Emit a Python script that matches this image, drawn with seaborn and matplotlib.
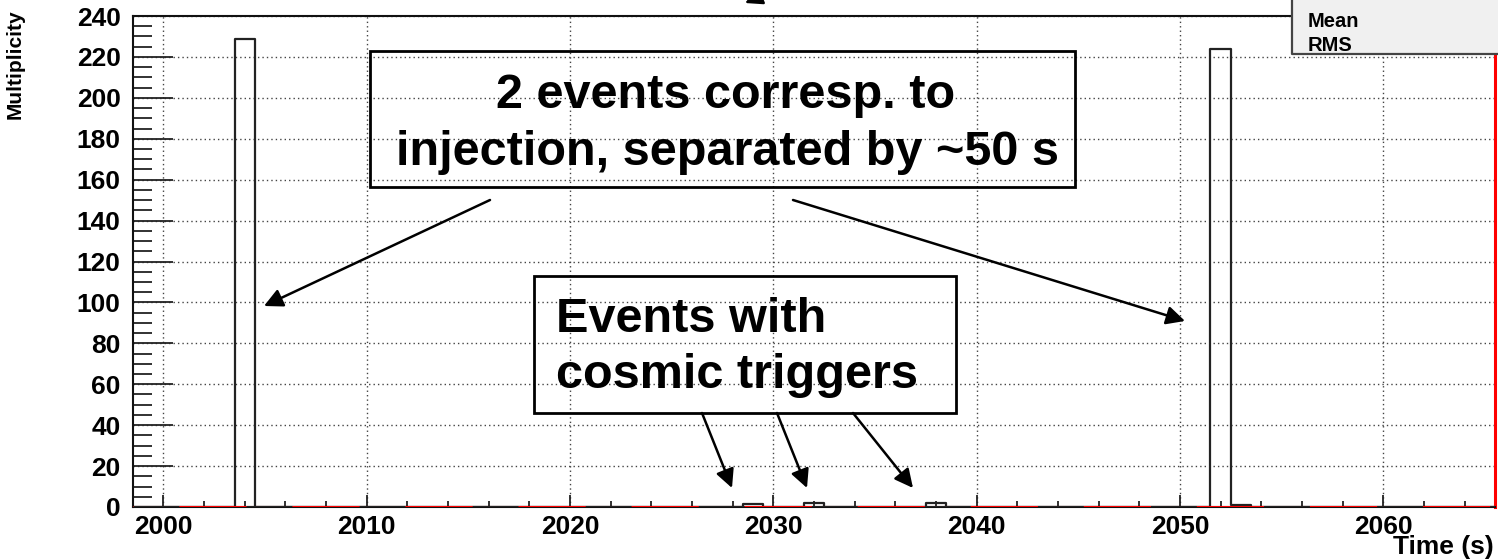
import numpy as np
import pandas as pd
import matplotlib
matplotlib.use("Agg")
import matplotlib.pyplot as plt
from matplotlib.patches import Rectangle
from matplotlib.ticker import MultipleLocator
import seaborn as sns

# ---- data ----
time_centers = list(range(1999, 2066))          # bin centres, 1 s bins
nonzero_bins = {2004: 229, 2029: 1.5, 2032: 2, 2038: 2, 2052: 224, 2053: 1.2}
multiplicity = [nonzero_bins.get(t, 0) for t in time_centers]
x_ticks = [2000, 2010, 2020, 2030, 2040, 2050, 2060]
y_ticks = list(range(0, 241, 20))
box1_lines = ["2 events corresp. to", "injection, separated by ~50 s"]
box2_lines = ["Events with", "cosmic triggers"]
stats_lines = ["Mean", "RMS"]

df = pd.DataFrame({"time": time_centers, "mult": multiplicity})

W, H = 1498, 559
sns.set_theme(style="ticks")
plt.rcParams["font.family"] = ["Liberation Sans", "DejaVu Sans"]
plt.rcParams["font.weight"] = "bold"
plt.rcParams["text.color"] = "black"
plt.rcParams["xtick.color"] = "black"
plt.rcParams["ytick.color"] = "black"
plt.rcParams["axes.edgecolor"] = "black"

fig = plt.figure(figsize=(W / 100, H / 100), dpi=100)
ax = fig.add_axes([133 / W, 1 - 507 / H, (1495 - 133) / W, (507 - 16) / H])

def fx(px):
    return px / W

def fy(py):
    return 1 - py / H

ax.grid(True, which="major", linestyle=(0, (1, 2.2)), color="#444444", linewidth=1.0)
ax.set_axisbelow(True)

sns.histplot(data=df, x="time", weights="mult", binwidth=1, binrange=(1998.5, 2065.5),
             element="step", fill=False, color="#222222", linewidth=1.6, ax=ax)

ax.axhline(0, color="red", linewidth=2.2, zorder=3)
ax.axhline(0, color="#222222", linewidth=2.2, zorder=3.1, dashes=(15, 22))

ax.set_xlim(1998.5, 2065.5)
ax.set_ylim(0, 240)
ax.set_xticks(x_ticks)
ax.set_yticks(y_ticks)
ax.xaxis.set_minor_locator(MultipleLocator(2))
ax.yaxis.set_minor_locator(MultipleLocator(5))
ax.set_xlabel("")
ax.set_ylabel("")

ax.tick_params(axis="y", which="major", direction="in", length=29, width=1.3,
               pad=9, labelsize=19, colors="#222222", labelcolor="black")
ax.tick_params(axis="y", which="minor", direction="in", length=14, width=1.3,
               colors="#222222")
ax.tick_params(axis="x", which="major", direction="in", length=9, width=1.3,
               pad=6, labelsize=19, colors="#222222", labelcolor="black")
ax.tick_params(axis="x", which="minor", direction="in", length=4.5, width=1.3,
               colors="#222222")
for lab in ax.get_xticklabels() + ax.get_yticklabels():
    lab.set_fontweight("bold")
    lab.set_color("black")

for s in ["left", "bottom", "top"]:
    ax.spines[s].set_color("#111111")
    ax.spines[s].set_linewidth(1.5)
ax.spines["right"].set_color("red")
ax.spines["right"].set_linewidth(2.2)
ax.spines["right"].set_visible(True)
ax.spines["top"].set_visible(True)

# axis titles
fig.text(fx(15), fy(64), "Multiplicity", rotation=90, ha="center", va="center",
         fontsize=15, fontweight="bold", color="black")
fig.text(fx(1494), fy(554), "Time (s)", ha="right", va="baseline",
         fontsize=19, fontweight="bold", color="black")

# annotation boxes
def box(x0, y0, x1, y1):
    fig.add_artist(Rectangle((fx(x0), fy(y1)), fx(x1) - fx(x0), fy(y0) - fy(y1),
                             transform=fig.transFigure, fill=False,
                             edgecolor="black", linewidth=2.0, zorder=5))

box(370, 51, 1075, 187)
fig.text(fx(726), fy(108), box1_lines[0], ha="center", va="baseline",
         fontsize=35, fontweight="bold", color="black", zorder=6)
fig.text(fx(728), fy(165), box1_lines[1], ha="center", va="baseline",
         fontsize=35, fontweight="bold", color="black", zorder=6)

box(534, 276, 956, 413)
fig.text(fx(556), fy(332), box2_lines[0], ha="left", va="baseline",
         fontsize=35, fontweight="bold", color="black", zorder=6)
fig.text(fx(556), fy(388), box2_lines[1], ha="left", va="baseline",
         fontsize=35, fontweight="bold", color="black", zorder=6)

# arrows (figure-pixel layout)
def arrow(x0, y0, x1, y1, scale=28):
    fig.add_artist(matplotlib.patches.FancyArrowPatch(
        (fx(x0), fy(y0)), (fx(x1), fy(y1)), transform=fig.transFigure,
        arrowstyle="-|>", mutation_scale=scale, linewidth=1.8, color="black",
        shrinkA=0, shrinkB=0, zorder=6))

arrow(490, 200, 264, 306)
arrow(793, 200, 1185, 321)
arrow(702, 413, 732, 488)
arrow(777, 413, 807, 488)
arrow(853, 413, 913, 488)
arrow(800, -20, 745, 3, scale=26)

# stats box (top right)
fig.add_artist(Rectangle((fx(1292), fy(54)), fx(1500) - fx(1292), fy(-2) - fy(54),
                         transform=fig.transFigure, facecolor="#f0f0f0",
                         edgecolor="none", zorder=7))
fig.add_artist(plt.Line2D([fx(1292), fx(1292), fx(1500)], [fy(-2), fy(54), fy(54)],
                          transform=fig.transFigure, color="#444444",
                          linewidth=1.6, zorder=8))
fig.text(fx(1308), fy(27), stats_lines[0], ha="left", va="baseline",
         fontsize=14.5, fontweight="bold", color="black", zorder=9)
fig.text(fx(1308), fy(51), stats_lines[1], ha="left", va="baseline",
         fontsize=14.5, fontweight="bold", color="black", zorder=9)

fig.savefig("out.png", dpi=100)
